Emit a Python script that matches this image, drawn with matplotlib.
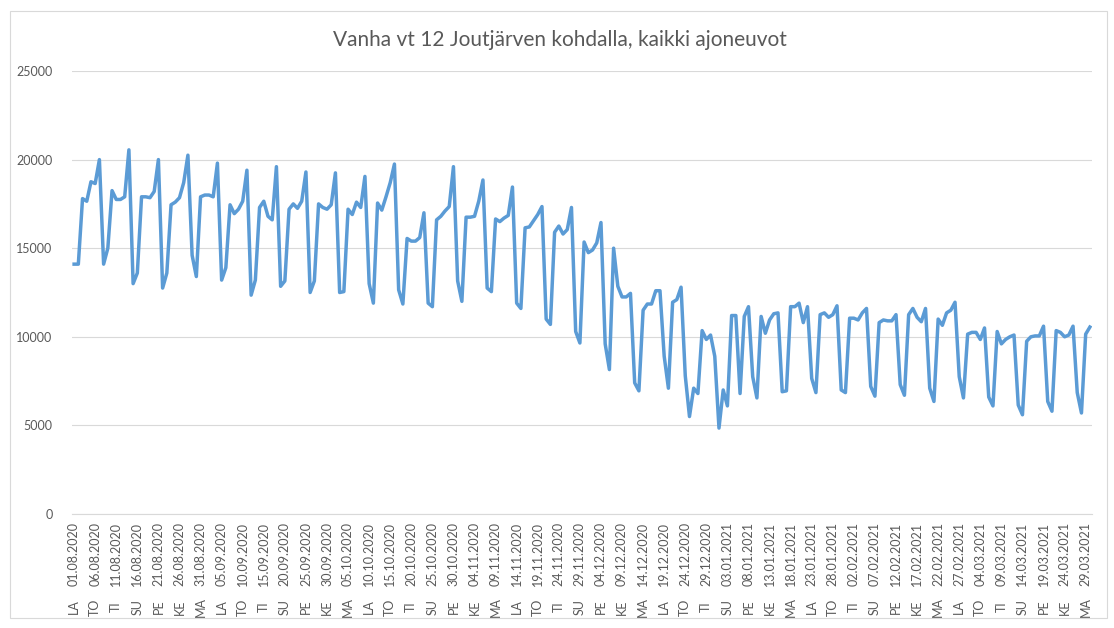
# Libraries ----------------------------------------

import numpy as np
import pandas as pd
import matplotlib
matplotlib.use("Agg")
import matplotlib.pyplot as plt
from matplotlib.patches import Rectangle

plt.rcParams['font.family'] = ['Lato', 'DejaVu Sans']

# Data (vuorokausiliikenne, 01.08.2020 - 30.03.2021) ----------------------------------------

start_date = "2020-08-01"
traffic = [
    14100, 14100,
    17800, 17650, 18750, 18650, 20000, 14100, 15000,
    18250, 17750, 17750, 17900, 20550, 13000, 13600,
    17900, 17900, 17850, 18200, 20000, 12750, 13600,
    17450, 17600, 17850, 18700, 20250, 14600, 13400,
    17900, 18000, 18000, 17900, 19800, 13200, 13900,
    17450, 16950, 17200, 17650, 19400, 12350, 13200,
    17300, 17650, 16800, 16600, 19600, 12850, 13150,
    17200, 17500, 17250, 17650, 19300, 12500, 13150,
    17500, 17300, 17200, 17450, 19250, 12500, 12550,
    17200, 16900, 17600, 17300, 19050, 13000, 11900,
    17550, 17150, 17900, 18700, 19750, 12650, 11850,
    15550, 15400, 15400, 15600, 17000, 11900, 11700,
    16600, 16800, 17100, 17350, 19600, 13150, 12000,
    16750, 16750, 16800, 17650, 18850, 12750, 12550,
    16650, 16500, 16700, 16850, 18450, 11900, 11600,
    16150, 16200, 16550, 16900, 17350, 11000, 10700,
    15900, 16250, 15800, 16050, 17300, 10300, 9650,
    15350, 14750, 14900, 15300, 16450, 9600, 8150,
    15000, 12850, 12250, 12250, 12450, 7400, 6950,
    11500, 11850, 11850, 12600, 12600, 8900, 7100,
    11950, 12100, 12800, 7800, 5500, 7100, 6800,
    10350, 9850, 10100, 8900, 4850, 7000, 6100,
    11200, 11200, 6800, 11150, 11700, 7750, 6550,
    11150, 10200, 10950, 11300, 11350, 6900, 6950,
    11700, 11700, 11900, 10800, 11700, 7650, 6850,
    11250, 11350, 11100, 11250, 11750, 7000, 6850,
    11050, 11050, 10950, 11350, 11600, 7200, 6650,
    10800, 10950, 10900, 10900, 11250, 7300, 6700,
    11250, 11600, 11100, 10850, 11600, 7100, 6350,
    11000, 10650, 11350, 11500, 11950, 7750, 6550,
    10150, 10250, 10250, 9850, 10500, 6600, 6100,
    10300, 9600, 9850, 10000, 10100, 6150, 5600,
    9750, 10000, 10050, 10050, 10600, 6350, 5800,
    10350, 10250, 10000, 10100, 10600, 6850, 5700,
    10150, 10550,
]
weekday_names = ["MA", "TI", "KE", "TO", "PE", "LA", "SU"]
y_ticks = [0, 5000, 10000, 15000, 20000, 25000]
title = "Vanha vt 12 Joutjärven kohdalla, kaikki ajoneuvot"

dates = pd.date_range(start_date, periods=len(traffic), freq="D")
x = np.arange(len(traffic))
label_idx = x[::5]
date_labels = [dates[i].strftime("%d.%m.%Y") for i in label_idx]
day_labels = [weekday_names[dates[i].weekday()] for i in label_idx]

# Plot ----------------------------------------

grey = "#595959"
W, H = 1114, 628
fig = plt.figure(figsize=(W / 100, H / 100), dpi=100)
fig.patches.append(Rectangle((10 / W, 1 - 618 / H), 1097 / W, 607 / H,
                             transform=fig.transFigure, fill=False,
                             edgecolor="#d9d9d9", linewidth=0.8))

ax = fig.add_axes([72 / W, 1 - 514 / H, 1020 / W, 443 / H])
ax.plot(x, traffic, color="#5B9BD5", linewidth=2.5, solid_joinstyle="round")
ax.set_xlim(-0.5, len(traffic) - 0.5)
ax.set_ylim(0, 25000)
ax.set_yticks(y_ticks)
ax.set_yticklabels([str(v) for v in y_ticks], color=grey, fontsize=9)
ax.yaxis.grid(True, color="#d9d9d9", linewidth=0.8)
ax.set_axisbelow(True)
for s in ["top", "right", "left"]:
    ax.spines[s].set_visible(False)
ax.spines["bottom"].set_color("#d9d9d9")
ax.tick_params(axis="y", length=0, pad=14)
ax.tick_params(axis="x", length=0, pad=6)

ax.set_xticks(label_idx)
ax.set_xticklabels(date_labels, rotation=90, color=grey, fontsize=9)
for i, lab in zip(label_idx, day_labels):
    ax.text(i, -0.21, lab, rotation=90, ha="center", va="center",
            color=grey, fontsize=9, transform=ax.get_xaxis_transform())

fig.text(560 / W, 1 - 40 / H, title, ha="center", va="center",
         color=grey, fontsize=15)

fig.savefig("out.png", dpi=100)
